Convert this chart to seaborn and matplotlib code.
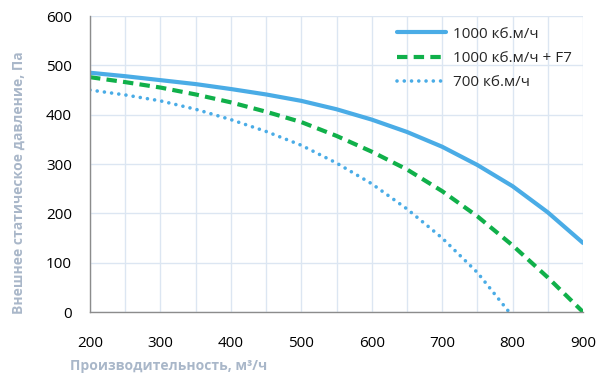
import matplotlib
matplotlib.use("Agg")
import matplotlib.pyplot as plt
import seaborn as sns
import pandas as pd
from matplotlib.ticker import MultipleLocator

sns.set_style("white")
plt.rcParams['font.family'] = ['Open Sans', 'DejaVu Sans']

x_1000 = [200, 250, 300, 350, 400, 450, 500, 550, 600, 650, 700, 750, 800, 850, 900]
y_1000 = [485, 478, 470, 462, 452, 441, 428, 411, 390, 365, 335, 298, 255, 202, 140]
x_f7 = [200, 250, 300, 350, 400, 450, 500, 550, 600, 650, 700, 750, 800, 850, 900]
y_f7 = [476, 466, 455, 441, 425, 406, 385, 357, 325, 289, 245, 194, 135, 70, 0]
x_700 = [200, 250, 300, 350, 400, 450, 500, 550, 600, 650, 700, 750, 795]
y_700 = [450, 440, 428, 411, 390, 366, 338, 302, 260, 209, 150, 80, 0]
labels = ["1000 кб.м/ч", "1000 кб.м/ч + F7", "700 кб.м/ч"]

blue = "#4AACE6"
green = "#10B04A"
gray_label = "#A9B7C9"

fig = plt.figure(figsize=(6, 3.84), dpi=100)
ax = fig.add_axes([0.15, 0.1875, 0.8217, 0.7708])

df1 = pd.DataFrame({"x": x_1000, "y": y_1000})
df2 = pd.DataFrame({"x": x_f7, "y": y_f7})
df3 = pd.DataFrame({"x": x_700, "y": y_700})

sns.lineplot(data=df1, x="x", y="y", ax=ax, color=blue, lw=3, label=labels[0])
sns.lineplot(data=df2, x="x", y="y", ax=ax, color=green, lw=3, label=labels[1])
sns.lineplot(data=df3, x="x", y="y", ax=ax, color=blue, lw=2.6, label=labels[2])

dash_style = (0, (2.5, 1.5))
dot_style = (0, (0.01, 2.0))
ax.lines[1].set_linestyle(dash_style)
ax.lines[2].set_linestyle(dot_style)
ax.lines[2].set_dash_capstyle("round")

ax.set_xlim(200, 900)
ax.set_ylim(0, 600)
ax.xaxis.set_major_locator(MultipleLocator(100))
ax.xaxis.set_minor_locator(MultipleLocator(50))
ax.yaxis.set_major_locator(MultipleLocator(100))
ax.grid(True, which="major", color="#DCE6F2", lw=1)
ax.grid(True, which="minor", axis="x", color="#DCE6F2", lw=1)
ax.set_axisbelow(True)

for s in ["top", "right"]:
    ax.spines[s].set_visible(False)
for s in ["left", "bottom"]:
    ax.spines[s].set_color("#8C8C8C")
    ax.spines[s].set_linewidth(1)

ax.tick_params(axis="both", which="both", direction="out", color="#8C8C8C",
               labelsize=11, labelcolor="#000000")
ax.tick_params(axis="both", which="major", length=5)
ax.tick_params(axis="x", which="minor", length=5)
ax.tick_params(axis="x", pad=12)
ax.tick_params(axis="y", pad=8)

ax.set_xlabel("")
ax.set_ylabel("")
fig.text(0.032, 0.525, "Внешнее статическое давление, Па", rotation=90,
         ha="center", va="center", fontsize=10, fontweight="bold", color=gray_label)
fig.text(0.117, 0.047, "Производительность, м³/ч", ha="left", va="center",
         fontsize=10, fontweight="bold", color=gray_label)

leg = ax.legend(loc="upper right", bbox_to_anchor=(1.0, 1.0), frameon=False,
                fontsize=11, handlelength=3.2, handletextpad=0.5,
                labelspacing=0.6, borderaxespad=0.3)
leg.get_lines()[1].set_linestyle(dash_style)
leg.get_lines()[2].set_linestyle(dot_style)
leg.get_lines()[2].set_dash_capstyle("round")

fig.savefig("out.png", dpi=100)
